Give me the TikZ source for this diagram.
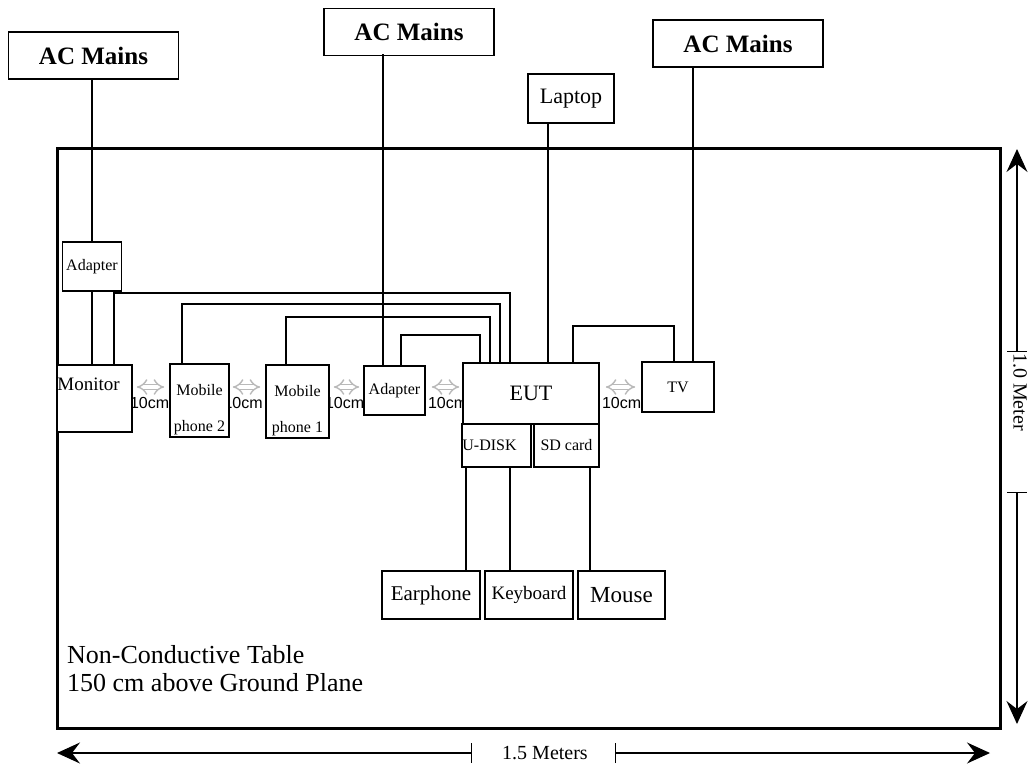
\documentclass[tikz,border=0pt]{standalone}
\usepackage{fontspec}
\setmainfont{Liberation Serif}
\newfontfamily\sansarial{Liberation Sans}
\usetikzlibrary{arrows.meta,backgrounds}
\newcommand\fsz[1]{\fontsize{#1}{#1}\selectfont}

\tikzset{
  box/.style={draw, line width=1.6pt, fill=white, inner sep=0pt},
  mains/.style={box, minimum width=170pt, minimum height=47pt, font=\bfseries\fsz{25}},
  phonetext/.style={align=center, yshift=-9pt, font=\fontsize{16}{36}\selectfont},
  cable/.style={line width=1.6pt},
  gaparrow/.style={draw=gray!55, line width=1.4pt, double=white, double distance=4pt,
    {Implies[length=8pt,width=17pt]}-{Implies[length=8pt,width=17pt]}},
  gaptext/.style={anchor=west, inner sep=0pt, font=\sansarial\fsz{16}},
  dimline/.style={line width=1.2pt, {Bar[width=20pt]}-{Stealth[length=23pt,width=21pt,inset=8pt]}},
}

\begin{document}
\begin{tikzpicture}[x=1pt,y=-1pt]
\useasboundingbox (0,0) rectangle (1029,764);

% table
\draw[line width=3pt] (57,148) rectangle (1000,728);
\node[anchor=west, align=left, inner sep=0pt, font=\fontsize{26}{28}\selectfont] (tabletext) at (67,669) {Non-Conductive Table\\150 cm above Ground Plane};

% mains and laptop
\node[mains] (acmA) at (93.5,55.5) {AC Mains};
\node[mains] (acmB) at (409,32) {AC Mains};
\node[mains] (acmC) at (738,43.5) {AC Mains};
\node[box, minimum width=86pt, minimum height=49pt, font=\fsz{22}] (laptop) at (571,98.5) {Laptop};

% devices on the table
\node[box, minimum width=59pt, minimum height=49pt, font=\fsz{16}] (adpA) at (92,266.5) {Adapter};
\node[box, minimum width=75pt, minimum height=67pt,
      label={[anchor=west, inner sep=1pt, yshift=14.5pt, font=\fsz{19}]west:Monitor}] (monitor) at (94.5,398.5) {};
\node[box, minimum width=59pt, minimum height=73pt, label={[phonetext]center:Mobile\\phone 2}] (phtwo) at (199.5,400.5) {};
\node[box, minimum width=63pt, minimum height=73pt, label={[phonetext]center:Mobile\\phone 1}] (phone) at (297.5,401.5) {};
\node[box, minimum width=61pt, minimum height=49pt, font=\fsz{16}] (adpB) at (394.5,390.5) {Adapter};
\node[box, minimum width=136pt, minimum height=61pt, font=\fsz{22}] (eut) at (531,393.5) {EUT};
\node[box, minimum width=72pt, minimum height=50pt, font=\fsz{16}] (tv) at (678,387) {TV};
\node[box, minimum width=69pt, minimum height=43pt,
      label={[anchor=west, inner sep=1pt, font=\fsz{16}]west:U-DISK}] (udisk) at (496.5,445.5) {};
\node[box, minimum width=65pt, minimum height=43pt, font=\fsz{16}] (sdcard) at (566.5,445.5) {SD card};
\node[box, minimum width=98pt, minimum height=48pt, font=\fsz{21}] (earph) at (431,595) {Earphone};
\node[box, minimum width=88pt, minimum height=48pt, font=\fsz{19}] (keyb) at (529,595) {Keyboard};
\node[box, minimum width=87pt, minimum height=48pt, font=\fsz{23}] (mouse) at (621.5,595) {Mouse};

% cables
\draw[cable] (adpA.north |- acmA.south) -- (adpA.north);
\draw[cable] (adpA.south) -- (adpA.south |- monitor.north);
\draw[cable] ([xshift=-11.5pt]adpB.north) -- ++(0,-311);
\draw[cable] ([xshift=15pt]tv.north) -- ++(0,-295);
\draw[cable] ([xshift=-23pt]laptop.south) -- ([xshift=17pt]eut.north);
\draw[cable] ([xshift=19.5pt]monitor.north) -- ++(0,-71) -| ([xshift=-21pt]eut.north);
\draw[cable] ([xshift=-17.5pt]phtwo.north) -- ++(0,-59) -| ([xshift=-31pt]eut.north);
\draw[cable] ([xshift=-11.5pt]phone.north) -- ++(0,-47) -| ([xshift=-41pt]eut.north);
\draw[cable] ([xshift=6.5pt]adpB.north) -- ++(0,-30) -| ([xshift=-51pt]eut.north);
\draw[cable] ([xshift=42pt]eut.north) -- ++(0,-36) -| ([xshift=-4pt]tv.north);
\draw[cable] ([xshift=-30.5pt]udisk.south) -- ([xshift=35pt]earph.north);
\draw[cable] ([xshift=13.5pt]udisk.south) -- ([xshift=-19pt]keyb.north);
\draw[cable] ([xshift=23.5pt]sdcard.south) -- ([xshift=-31.5pt]mouse.north);

% 10cm spacings
\coordinate (arrowy) at (0,387);
\coordinate (texty) at (0,403);
\begin{pgfonlayer}{background}
\draw[gaparrow] ([xshift=4pt]monitor.east |- arrowy) -- ([xshift=-5pt]phtwo.west |- arrowy);
\draw[gaparrow] ([xshift=3pt]phtwo.east |- arrowy) -- ([xshift=-5pt]phone.west |- arrowy);
\draw[gaparrow] ([xshift=4pt]phone.east |- arrowy) -- ([xshift=-4pt]adpB.west |- arrowy);
\draw[gaparrow] ([xshift=6pt]adpB.east |- arrowy) -- ([xshift=-3pt]eut.west |- arrowy);
\draw[gaparrow] ([xshift=6pt]eut.east |- arrowy) -- ([xshift=-6pt]tv.west |- arrowy);
\node[gaptext] at ([xshift=-3pt]monitor.east |- texty) {10cm};
\node[gaptext] at ([xshift=-6.5pt]phtwo.east |- texty) {10cm};
\node[gaptext] at ([xshift=-5pt]phone.east |- texty) {10cm};
\node[gaptext] at ([xshift=2pt]adpB.east |- texty) {10cm};
\node[gaptext] at ([xshift=2pt]eut.east |- texty) {10cm};
\end{pgfonlayer}

% dimensions
\node[font=\fsz{20}] (hdim) at (545,753) {1.5 Meters};
\coordinate (hleft) at (57,753);
\coordinate (hright) at (990,753);
\draw[dimline] ([xshift=-73pt]hdim.center) -- (hleft);
\draw[dimline] ([xshift=70pt]hdim.center) -- (hright);
\node[rotate=-90, font=\fsz{20}] (vdim) at (1020,392) {1.0 Meter};
\coordinate (vtop) at (1017,149);
\coordinate (vbot) at (1017,724);
\draw[dimline] ([yshift=40pt]vtop |- vdim.center) -- (vtop);
\draw[dimline] ([yshift=-100pt]vtop |- vdim.center) -- (vbot);
\end{tikzpicture}
\end{document}
